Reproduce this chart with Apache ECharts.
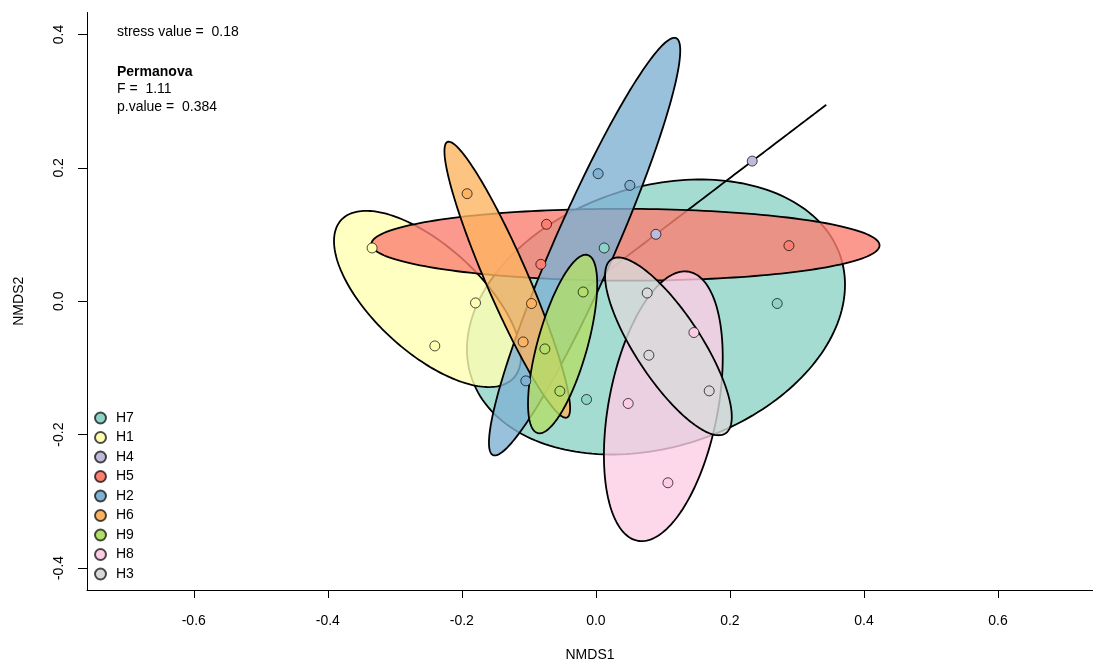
<!DOCTYPE html>
<html>
<head>
<meta charset="utf-8">
<script src="https://cdn.jsdelivr.net/npm/echarts@6/dist/echarts.min.js"></script>
<style>
  html, body { margin: 0; padding: 0; background: #ffffff; }
  #chart { width: 1093px; height: 665px; }
</style>
</head>
<body>
<div id="chart"></div>
<script>
// NMDS site scores [NMDS1, NMDS2] for each group
const H7 = [[0.0124, 0.0799], [0.2706, -0.0034], [-0.0139, -0.1473]];
const H1 = [[-0.3339, 0.0799], [-0.1796, -0.0025], [-0.2403, -0.0670]];
const H4 = [[0.0896, 0.1004], [0.2333, 0.2102]];
const H5 = [[-0.0736, 0.1154], [-0.0821, 0.0554], [0.2881, 0.0834]];
const H2 = [[0.0034, 0.1913], [0.0507, 0.1738], [-0.1045, -0.1194]];
const H6 = [[-0.1921, 0.1613], [-0.0960, -0.0034], [-0.1085, -0.0610]];
const H9 = [[-0.0190, 0.0139], [-0.0761, -0.0715], [-0.0537, -0.1348]];
const H8 = [[0.1463, -0.0469], [0.0482, -0.1533], [0.1075, -0.2722]];
const H3 = [[0.0766, 0.0124], [0.0791, -0.0809], [0.1691, -0.1344]];

// groups in drawing / legend order
const groupNames = ['H7', 'H1', 'H4', 'H5', 'H2', 'H6', 'H9', 'H8', 'H3'];
const groupPoints = [H7, H1, H4, H5, H2, H6, H9, H8, H3];

// axis ticks
const xTicks = [-0.6, -0.4, -0.2, 0.0, 0.2, 0.4, 0.6];
const yTicks = [-0.4, -0.2, 0.0, 0.2, 0.4];

// fit statistics
const stressValue = 0.18;
const permanovaF = 1.11;
const permanovaP = 0.384;

// Set3 palette
const palette = ['#8DD3C7', '#FFFFB3', '#BEBADA', '#FB8072', '#80B1D3',
                 '#FDB462', '#B3DE69', '#FCCDE5', '#D9D9D9'];

const FONT = "'Liberation Sans', Arial, Helvetica, sans-serif";
const ELLIPSE_CONF = 0.8;
const FILL_ALPHA = 0.8;

function hexToRgba(hex, a) {
  const v = parseInt(hex.slice(1), 16);
  return 'rgba(' + ((v >> 16) & 255) + ',' + ((v >> 8) & 255) + ',' + (v & 255) + ',' + a + ')';
}

// dispersion ellipse: centre + s * unit circle * chol(cov), s^2 = chi-square(conf, 2 df)
function dispersionEllipse(pts, conf, nSeg) {
  const n = pts.length;
  let mx = 0, my = 0;
  pts.forEach(p => { mx += p[0]; my += p[1]; });
  mx /= n; my /= n;
  let sxx = 0, syy = 0, sxy = 0;
  pts.forEach(p => {
    const dx = p[0] - mx, dy = p[1] - my;
    sxx += dx * dx; syy += dy * dy; sxy += dx * dy;
  });
  sxx /= (n - 1); syy /= (n - 1); sxy /= (n - 1);
  const a = Math.sqrt(sxx);
  const b = a > 0 ? sxy / a : 0;
  const c = Math.sqrt(Math.max(syy - b * b, 0));
  const s = Math.sqrt(-2 * Math.log(1 - conf));
  const out = [];
  for (let k = 0; k < nSeg; k++) {
    const t = 2 * Math.PI * k / nSeg;
    const ct = Math.cos(t), st = Math.sin(t);
    out.push([mx + s * a * ct, my + s * (b * ct + c * st)]);
  }
  return { center: [mx, my], path: out };
}

const ellipses = groupPoints.map(p => dispersionEllipse(p, ELLIPSE_CONF, 200));

const chart = echarts.init(document.getElementById('chart'), null, { renderer: 'canvas' });

const series = [];

series.push({
  type: 'custom',
  name: 'ellipses',
  z: 2,
  silent: true,
  data: ellipses.map((e, i) => [e.center[0], e.center[1], i]),
  encode: { x: 0, y: 1 },
  renderItem: function (params, api) {
    const gi = api.value(2);
    const pts = ellipses[gi].path.map(p => api.coord(p));
    return {
      type: 'polygon',
      shape: { points: pts },
      style: {
        fill: hexToRgba(palette[gi], FILL_ALPHA),
        stroke: '#000000',
        lineWidth: 1.8
      }
    };
  }
});

groupNames.forEach((g, i) => {
  series.push({
    type: 'scatter',
    name: g,
    z: 5,
    data: groupPoints[i],
    symbol: 'circle',
    symbolSize: 10,
    itemStyle: {
      color: palette[i],
      borderColor: 'rgba(0,0,0,0.7)',
      borderWidth: 1,
      opacity: 1
    },
    emphasis: { disabled: true }
  });
});

const option = {
  backgroundColor: '#ffffff',
  animation: false,
  textStyle: { fontFamily: FONT },
  grid: { left: 87, top: 12.5, width: 1006, height: 577.5, outerBoundsMode: 'none', containLabel: false },
  xAxis: {
    type: 'value',
    min: -0.7593,
    max: 0.7418,
    name: 'NMDS1',
    nameLocation: 'middle',
    nameGap: 58,
    nameTextStyle: { fontSize: 14, color: '#000', fontFamily: FONT },
    axisLine: { show: true, onZero: false, lineStyle: { color: '#000', width: 1 } },
    axisTick: { show: true, customValues: xTicks, length: 8, lineStyle: { color: '#000', width: 1 } },
    axisLabel: {
      customValues: xTicks,
      formatter: v => v.toFixed(1),
      fontSize: 14, color: '#000', margin: 24, fontFamily: FONT
    },
    splitLine: { show: false }
  },
  yAxis: {
    type: 'value',
    min: -0.433,
    max: 0.433,
    name: 'NMDS2',
    nameLocation: 'middle',
    nameGap: 61,
    nameTextStyle: { fontSize: 14, color: '#000', fontFamily: FONT },
    axisLine: { show: true, onZero: false, lineStyle: { color: '#000', width: 1 } },
    axisTick: { show: true, customValues: yTicks, length: 9, lineStyle: { color: '#000', width: 1 } },
    axisLabel: {
      customValues: yTicks,
      formatter: v => v.toFixed(1),
      rotate: 90,
      fontSize: 14, color: '#000', margin: 21, fontFamily: FONT
    },
    splitLine: { show: false }
  },
  legend: {
    data: groupNames,
    orient: 'vertical',
    left: 89,
    top: 406,
    icon: 'circle',
    itemWidth: 11,
    itemHeight: 11,
    itemGap: 5.5,
    selectedMode: false,
    textStyle: { fontSize: 14, color: '#000', fontFamily: FONT, padding: [0, 0, 0, 5] }
  },
  graphic: [
    { type: 'text', left: 117, top: 25,
      style: { text: 'stress value =  ' + stressValue, font: '14px ' + FONT, fill: '#000' } },
    { type: 'text', left: 117, top: 65,
      style: { text: 'Permanova', font: 'bold 14px ' + FONT, fill: '#000' } },
    { type: 'text', left: 117, top: 82,
      style: { text: 'F =  ' + permanovaF, font: '14px ' + FONT, fill: '#000' } },
    { type: 'text', left: 117, top: 100,
      style: { text: 'p.value =  ' + permanovaP, font: '14px ' + FONT, fill: '#000' } }
  ],
  series: series
};

chart.setOption(option);
</script>
</body>
</html>
